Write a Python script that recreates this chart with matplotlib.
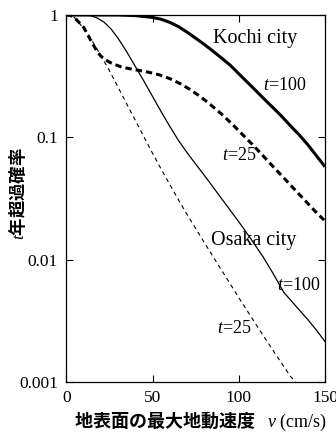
import matplotlib
matplotlib.use("Agg")
import matplotlib.pyplot as plt
from matplotlib.ticker import FixedLocator, FixedFormatter, NullLocator

plt.rcParams['font.family'] = ['Liberation Serif', 'DejaVu Serif']
plt.rcParams['mathtext.fontset'] = 'custom'
plt.rcParams['mathtext.rm'] = 'Liberation Serif'
plt.rcParams['mathtext.it'] = 'Liberation Serif:italic'
plt.rcParams['lines.scale_dashes'] = False

# ---- data ----
kochi100_v = [0, 20, 30, 40, 50, 55, 60, 65, 70, 75, 80, 85, 90, 95, 100, 105, 110,
              115, 120, 125, 130, 135, 140, 145, 150]
kochi100_p = [1, 1, 1, 0.989, 0.955, 0.923, 0.871, 0.804, 0.724, 0.646, 0.575, 0.507,
              0.445, 0.389, 0.331, 0.282, 0.240, 0.204, 0.174, 0.148, 0.124, 0.105,
              0.0871, 0.0708, 0.0575]

kochi25_v = [0, 2, 5, 8, 10, 12, 15, 18, 20, 22, 25, 28, 32, 37, 42, 48, 54, 60, 66,
             72, 78, 84, 90, 96, 102, 108, 114, 120, 126, 132, 138, 144, 150]
kochi25_p = [1, 1, 0.944, 0.851, 0.794, 0.708, 0.589, 0.501, 0.462, 0.437, 0.412,
             0.394, 0.376, 0.363, 0.353, 0.340, 0.324, 0.302, 0.275, 0.245, 0.214,
             0.183, 0.155, 0.129, 0.106, 0.0871, 0.0708, 0.0575, 0.0468, 0.0380,
             0.0309, 0.0251, 0.0207]

osaka100_v = [0, 10, 14, 18, 22, 26, 30, 35, 40, 45, 50, 55, 60, 65, 70, 75, 80, 90,
              100, 107, 114, 120, 124, 126, 130, 135, 140, 145, 150]
osaka100_p = [1, 1, 0.989, 0.944, 0.871, 0.767, 0.646, 0.501, 0.380, 0.288, 0.216,
              0.162, 0.123, 0.0944, 0.0750, 0.0605, 0.0490, 0.0316, 0.0204, 0.0148,
              0.0106, 0.00767, 0.00610, 0.00543, 0.00468, 0.00389, 0.00324, 0.00266,
              0.00214]

osaka25_v = [0, 2, 4, 6, 8, 10, 13, 16, 20, 25, 30, 35, 40, 45, 50, 55, 60, 65, 70,
             75, 80, 90, 100, 110, 120, 130, 133]
osaka25_p = [1, 1, 0.977, 0.912, 0.841, 0.776, 0.684, 0.582, 0.468, 0.351, 0.257,
             0.188, 0.138, 0.101, 0.0741, 0.0550, 0.0412, 0.0309, 0.0234, 0.0180,
             0.0138, 0.00822, 0.00490, 0.00295, 0.00180, 0.00111, 0.001]

x_ticks = [0, 50, 100, 150]
x_ticklabels = ['0', '50', '100', '150']
y_ticks = [0.001, 0.01, 0.1, 1]
y_ticklabels = ['0.001', '0.01', '0.1', '1']

labels = ['Kochi city', '$t$=100', '$t$=25', 'Osaka city', '$t$=100', '$t$=25']
label_v = [85.1, 114.2, 90.1, 83.7, 122.0, 87.2]
label_p = [0.587, 0.244, 0.0652, 0.01316, 0.00564, 0.00250]
label_size = [14.5, 13, 13, 14.5, 13, 13]

# ---- figure ----
fig = plt.figure(figsize=(3.36, 4.33), dpi=100)
ax = fig.add_axes([66.3 / 336, 1 - 382 / 433, (325 - 66.3) / 336, (382 - 15) / 433])

ax.plot(kochi100_v, kochi100_p, color='black', lw=2.2, solid_capstyle='butt')
ax.plot(kochi25_v, kochi25_p, color='black', lw=2.2, linestyle=(0, (4.6, 2.9)))
ax.plot(osaka100_v, osaka100_p, color='black', lw=0.9)
ax.plot(osaka25_v, osaka25_p, color='black', lw=0.8, linestyle=(0, (3.0, 2.6)))

ax.set_yscale('log')
ax.set_xlim(0, 150)
ax.set_ylim(0.001, 1)

ax.xaxis.set_major_locator(FixedLocator(x_ticks))
ax.xaxis.set_major_formatter(FixedFormatter(x_ticklabels))
ax.yaxis.set_major_locator(FixedLocator(y_ticks))
ax.yaxis.set_major_formatter(FixedFormatter(y_ticklabels))
ax.yaxis.set_minor_locator(NullLocator())
ax.xaxis.set_minor_locator(NullLocator())

ax.tick_params(axis='both', which='major', direction='in', length=5, width=0.8,
               top=True, right=True, labelsize=12.5, colors='black')
ax.tick_params(axis='x', pad=6)
ax.tick_params(axis='y', pad=6)
for sp in ax.spines.values():
    sp.set_linewidth(0.9)

for t, v, p, s in zip(labels, label_v, label_p, label_size):
    ax.text(v, p, t, fontsize=s, ha='left', va='baseline')

cjk = ['Noto Sans CJK JP']
fig.text(200 / 336, 1 - 421.5 / 433, '地表面の最大地動速度 $\\ \\ v\\ \\mathrm{(cm/s)}$',
         fontsize=13, family=cjk, weight='bold', ha='center', va='center')
fig.text(17 / 336, 1 - 193.5 / 433, '$t$年超過確率',
         fontsize=12.5, family=cjk, weight='bold', ha='center', va='center', rotation=90)

fig.savefig('out.png', dpi=100)
